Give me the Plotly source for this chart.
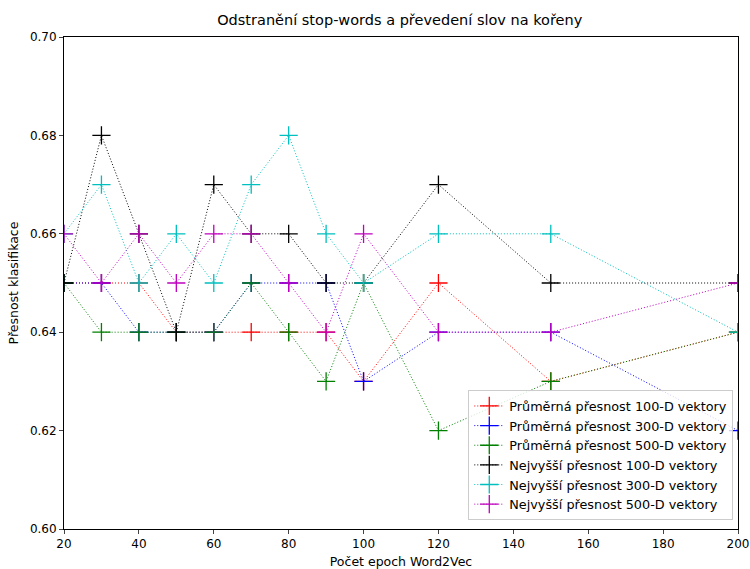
import plotly.graph_objects as go

epochs = [20, 30, 40, 50, 60, 70, 80, 90, 100, 120, 150, 200]

avg_100 = [0.65, 0.65, 0.65, 0.64, 0.64, 0.64, 0.64, 0.64, 0.63, 0.65, 0.63, 0.64]
avg_300 = [0.65, 0.65, 0.64, 0.64, 0.64, 0.65, 0.65, 0.65, 0.63, 0.64, 0.64, 0.62]
avg_500 = [0.65, 0.64, 0.64, 0.64, 0.64, 0.65, 0.64, 0.63, 0.65, 0.62, 0.63, 0.64]
max_100 = [0.65, 0.68, 0.66, 0.64, 0.67, 0.66, 0.66, 0.65, 0.65, 0.67, 0.65, 0.65]
max_300 = [0.66, 0.67, 0.65, 0.66, 0.65, 0.67, 0.68, 0.66, 0.65, 0.66, 0.66, 0.64]
max_500 = [0.66, 0.65, 0.66, 0.65, 0.66, 0.66, 0.65, 0.64, 0.66, 0.64, 0.64, 0.65]

series = [
    ("Průměrná přesnost 100-D vektory", avg_100, "#ff0000"),
    ("Průměrná přesnost 300-D vektory", avg_300, "#0000ff"),
    ("Průměrná přesnost 500-D vektory", avg_500, "#008000"),
    ("Nejvyšší přesnost 100-D vektory", max_100, "#000000"),
    ("Nejvyšší přesnost 300-D vektory", max_300, "#00bfbf"),
    ("Nejvyšší přesnost 500-D vektory", max_500, "#bf00bf"),
]

x_ticks = [20, 40, 60, 80, 100, 120, 140, 160, 180, 200]
y_ticks = [0.60, 0.62, 0.64, 0.66, 0.68, 0.70]

fig = go.Figure()
for name, vals, color in series:
    fig.add_trace(go.Scatter(
        x=epochs, y=vals, name=name, mode="lines+markers",
        line=dict(color=color, width=1, dash="1px,2px"),
        marker=dict(symbol="cross-thin-open", size=13, line=dict(color=color, width=1.3)),
    ))

font = "DejaVu Sans"
fig.update_layout(
    width=750, height=569,
    margin=dict(l=64, r=12, t=37, b=40),
    paper_bgcolor="white", plot_bgcolor="white",
    font=dict(family=font, size=12, color="black"),
    title=dict(text="Odstranění stop-words a převedení slov na kořeny",
               x=0.533, xanchor="center", y=0.965, yanchor="middle",
               font=dict(size=14.5)),
    showlegend=True,
    legend=dict(x=0.993, y=0.018, xanchor="right", yanchor="bottom",
                bgcolor="rgba(255,255,255,0.8)", bordercolor="#cccccc", borderwidth=1,
                font=dict(size=12.8), tracegroupgap=0, itemwidth=30),
)
fig.update_xaxes(range=[20, 200], tickvals=x_ticks, ticks="outside", ticklen=4,
                 showline=True, linecolor="black", linewidth=1, mirror=True,
                 showgrid=False, zeroline=False, automargin=False,
                 title=dict(text="Počet epoch Word2Vec", font=dict(size=12.5), standoff=6))
fig.update_yaxes(range=[0.60, 0.70], tickvals=y_ticks, tickformat=".2f", ticks="outside", ticklen=4,
                 showline=True, linecolor="black", linewidth=1, mirror=True,
                 showgrid=False, zeroline=False, automargin=False,
                 title=dict(text="Přesnost klasifikace", font=dict(size=12.5), standoff=8))

fig.write_html("out.html")
